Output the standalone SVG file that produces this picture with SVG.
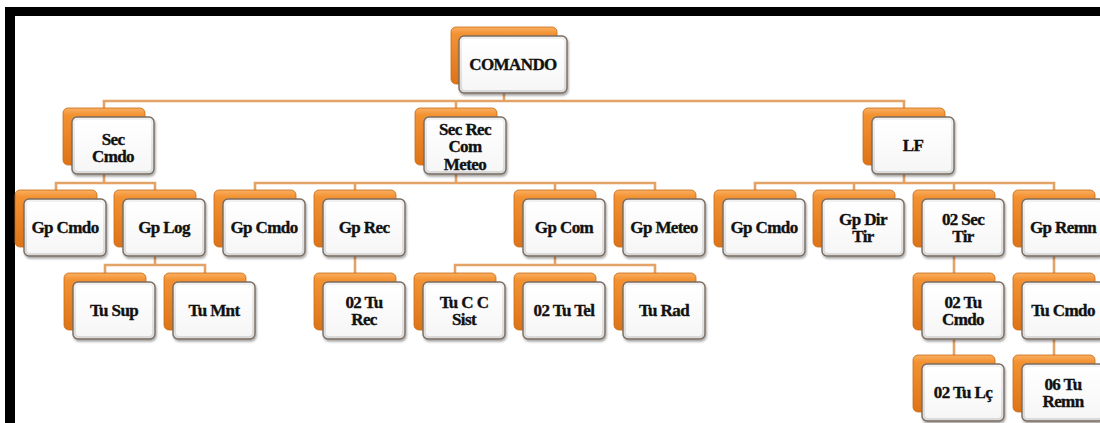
<svg xmlns="http://www.w3.org/2000/svg" width="1100" height="423" viewBox="0 0 1100 423">
<defs>
<linearGradient id="gOr" x1="0" y1="0" x2="0" y2="1">
<stop offset="0" stop-color="#FAB062"/>
<stop offset="0.12" stop-color="#F39232"/>
<stop offset="1" stop-color="#DD7418"/>
</linearGradient>
<linearGradient id="gFr" x1="0" y1="0" x2="0" y2="1">
<stop offset="0" stop-color="#F2F2F2"/>
<stop offset="1" stop-color="#D9D9D9"/>
</linearGradient>
<linearGradient id="gIn" x1="0" y1="0" x2="0" y2="1">
<stop offset="0" stop-color="#FFFFFF"/>
<stop offset="1" stop-color="#F6F6F6"/>
</linearGradient>
<filter id="sh" x="-10%" y="-10%" width="130%" height="140%">
<feDropShadow dx="1" dy="2" stdDeviation="1.3" flood-color="#000" flood-opacity="0.35"/>
</filter>
</defs>
<style>
.back{fill:url(#gOr);stroke:#C86A14;stroke-width:0.8}
.front{fill:url(#gFr);stroke:#7A6C60;stroke-width:1.4;filter:url(#sh)}
.inner{fill:url(#gIn)}
.t{font-family:"Liberation Serif","Times New Roman",serif;font-weight:bold;font-size:17px;fill:#111;stroke:#111;stroke-width:0.35;text-anchor:middle;letter-spacing:-0.6px}
.c{fill:none;stroke:#E3A266;stroke-width:2.6}
</style>
<rect width="1100" height="423" fill="#FFFFFF"/>
<rect x="5" y="7" width="1095" height="9" fill="#000"/>
<rect x="5" y="7" width="10" height="416" fill="#000"/>
<g id="connectors">
<path class="c" d="M504,93V101M104,108V101H904V108M456,101V108"/>
<path class="c" d="M104,174V183M56,190V183H155V190"/>
<path class="c" d="M456,174V183M255,190V183H655V190M355,183V190M555,183V190"/>
<path class="c" d="M904,174V183M755,190V183H1054V190M854,183V190M954,183V190"/>
<path class="c" d="M155,256V265M105,273V265H205V273"/>
<path class="c" d="M355,256V273"/>
<path class="c" d="M555,256V265M455,273V265H655V273"/>
<path class="c" d="M954,256V273M1054,256V273"/>
<path class="c" d="M954,339V355M1054,339V355"/>
</g>
<g id="n-comando" transform="translate(451,27)">
<rect class="back" x="0" y="0" width="106" height="57" rx="5"/>
<rect class="front" x="8" y="9" width="108" height="57" rx="5"/>
<rect class="inner" x="11" y="12" width="102" height="51" rx="3"/>
<text class="t" x="62" y="43">COMANDO</text>
</g>
<g id="n-sec-cmdo" transform="translate(63,108)">
<rect class="back" width="82" height="57" rx="5"/><rect class="front" x="9" y="9" width="82" height="57" rx="5"/><rect class="inner" x="12" y="12" width="76" height="51" rx="3"/>
<text class="t" x="50" y="37">Sec</text><text class="t" x="50" y="54">Cmdo</text>
</g>
<g id="n-sec-rec" transform="translate(415,108)">
<rect class="back" width="82" height="57" rx="5"/><rect class="front" x="9" y="9" width="82" height="57" rx="5"/><rect class="inner" x="12" y="12" width="76" height="51" rx="3"/>
<text class="t" x="50" y="27">Sec Rec</text><text class="t" x="50" y="44">Com</text><text class="t" x="50" y="62">Meteo</text>
</g>
<g id="n-lf" transform="translate(863,108)">
<rect class="back" width="82" height="57" rx="5"/><rect class="front" x="9" y="9" width="82" height="57" rx="5"/><rect class="inner" x="12" y="12" width="76" height="51" rx="3"/>
<text class="t" x="50" y="43">LF</text>
</g>
<g id="n-gp-cmdo-1" transform="translate(15,190)">
<rect class="back" width="82" height="57" rx="5"/><rect class="front" x="9" y="9" width="82" height="57" rx="5"/><rect class="inner" x="12" y="12" width="76" height="51" rx="3"/>
<text class="t" x="50" y="43">Gp Cmdo</text>
</g>
<g id="n-gp-log" transform="translate(114,190)">
<rect class="back" width="82" height="57" rx="5"/><rect class="front" x="9" y="9" width="82" height="57" rx="5"/><rect class="inner" x="12" y="12" width="76" height="51" rx="3"/>
<text class="t" x="50" y="43">Gp Log</text>
</g>
<g id="n-gp-cmdo-2" transform="translate(214,190)">
<rect class="back" width="82" height="57" rx="5"/><rect class="front" x="9" y="9" width="82" height="57" rx="5"/><rect class="inner" x="12" y="12" width="76" height="51" rx="3"/>
<text class="t" x="50" y="43">Gp Cmdo</text>
</g>
<g id="n-gp-rec" transform="translate(314,190)">
<rect class="back" width="82" height="57" rx="5"/><rect class="front" x="9" y="9" width="82" height="57" rx="5"/><rect class="inner" x="12" y="12" width="76" height="51" rx="3"/>
<text class="t" x="50" y="43">Gp Rec</text>
</g>
<g id="n-gp-com" transform="translate(514,190)">
<rect class="back" width="82" height="57" rx="5"/><rect class="front" x="9" y="9" width="82" height="57" rx="5"/><rect class="inner" x="12" y="12" width="76" height="51" rx="3"/>
<text class="t" x="50" y="43">Gp Com</text>
</g>
<g id="n-gp-meteo" transform="translate(614,190)">
<rect class="back" width="82" height="57" rx="5"/><rect class="front" x="9" y="9" width="82" height="57" rx="5"/><rect class="inner" x="12" y="12" width="76" height="51" rx="3"/>
<text class="t" x="50" y="43">Gp Meteo</text>
</g>
<g id="n-gp-cmdo-3" transform="translate(714,190)">
<rect class="back" width="82" height="57" rx="5"/><rect class="front" x="9" y="9" width="82" height="57" rx="5"/><rect class="inner" x="12" y="12" width="76" height="51" rx="3"/>
<text class="t" x="50" y="43">Gp Cmdo</text>
</g>
<g id="n-gp-dir-tir" transform="translate(813,190)">
<rect class="back" width="82" height="57" rx="5"/><rect class="front" x="9" y="9" width="82" height="57" rx="5"/><rect class="inner" x="12" y="12" width="76" height="51" rx="3"/>
<text class="t" x="50" y="35">Gp Dir</text><text class="t" x="50" y="52">Tir</text>
</g>
<g id="n-02-sec-tir" transform="translate(913,190)">
<rect class="back" width="82" height="57" rx="5"/><rect class="front" x="9" y="9" width="82" height="57" rx="5"/><rect class="inner" x="12" y="12" width="76" height="51" rx="3"/>
<text class="t" x="50" y="35">02 Sec</text><text class="t" x="50" y="52">Tir</text>
</g>
<g id="n-gp-remn" transform="translate(1013,190)">
<rect class="back" width="82" height="57" rx="5"/><rect class="front" x="9" y="9" width="82" height="57" rx="5"/><rect class="inner" x="12" y="12" width="76" height="51" rx="3"/>
<text class="t" x="50" y="43">Gp Remn</text>
</g>
<g id="n-tu-sup" transform="translate(64,273)">
<rect class="back" width="82" height="57" rx="5"/><rect class="front" x="9" y="9" width="82" height="57" rx="5"/><rect class="inner" x="12" y="12" width="76" height="51" rx="3"/>
<text class="t" x="50" y="43">Tu Sup</text>
</g>
<g id="n-tu-mnt" transform="translate(164,273)">
<rect class="back" width="82" height="57" rx="5"/><rect class="front" x="9" y="9" width="82" height="57" rx="5"/><rect class="inner" x="12" y="12" width="76" height="51" rx="3"/>
<text class="t" x="50" y="43">Tu Mnt</text>
</g>
<g id="n-02-tu-rec" transform="translate(314,273)">
<rect class="back" width="82" height="57" rx="5"/><rect class="front" x="9" y="9" width="82" height="57" rx="5"/><rect class="inner" x="12" y="12" width="76" height="51" rx="3"/>
<text class="t" x="50" y="35">02 Tu</text><text class="t" x="50" y="52">Rec</text>
</g>
<g id="n-tu-cc-sist" transform="translate(414,273)">
<rect class="back" width="82" height="57" rx="5"/><rect class="front" x="9" y="9" width="82" height="57" rx="5"/><rect class="inner" x="12" y="12" width="76" height="51" rx="3"/>
<text class="t" x="50" y="35">Tu C C</text><text class="t" x="50" y="52">Sist</text>
</g>
<g id="n-02-tu-tel" transform="translate(514,273)">
<rect class="back" width="82" height="57" rx="5"/><rect class="front" x="9" y="9" width="82" height="57" rx="5"/><rect class="inner" x="12" y="12" width="76" height="51" rx="3"/>
<text class="t" x="50" y="43">02 Tu Tel</text>
</g>
<g id="n-tu-rad" transform="translate(614,273)">
<rect class="back" width="82" height="57" rx="5"/><rect class="front" x="9" y="9" width="82" height="57" rx="5"/><rect class="inner" x="12" y="12" width="76" height="51" rx="3"/>
<text class="t" x="50" y="43">Tu Rad</text>
</g>
<g id="n-02-tu-cmdo" transform="translate(913,273)">
<rect class="back" width="82" height="57" rx="5"/><rect class="front" x="9" y="9" width="82" height="57" rx="5"/><rect class="inner" x="12" y="12" width="76" height="51" rx="3"/>
<text class="t" x="50" y="35">02 Tu</text><text class="t" x="50" y="52">Cmdo</text>
</g>
<g id="n-tu-cmdo" transform="translate(1013,273)">
<rect class="back" width="82" height="57" rx="5"/><rect class="front" x="9" y="9" width="82" height="57" rx="5"/><rect class="inner" x="12" y="12" width="76" height="51" rx="3"/>
<text class="t" x="50" y="43">Tu Cmdo</text>
</g>
<g id="n-02-tu-lc" transform="translate(913,355)">
<rect class="back" width="82" height="57" rx="5"/><rect class="front" x="9" y="9" width="82" height="57" rx="5"/><rect class="inner" x="12" y="12" width="76" height="51" rx="3"/>
<text class="t" x="50" y="43">02 Tu Lç</text>
</g>
<g id="n-06-tu-remn" transform="translate(1013,355)">
<rect class="back" width="82" height="57" rx="5"/><rect class="front" x="9" y="9" width="82" height="57" rx="5"/><rect class="inner" x="12" y="12" width="76" height="51" rx="3"/>
<text class="t" x="50" y="35">06 Tu</text><text class="t" x="50" y="52">Remn</text>
</g>
</svg>
